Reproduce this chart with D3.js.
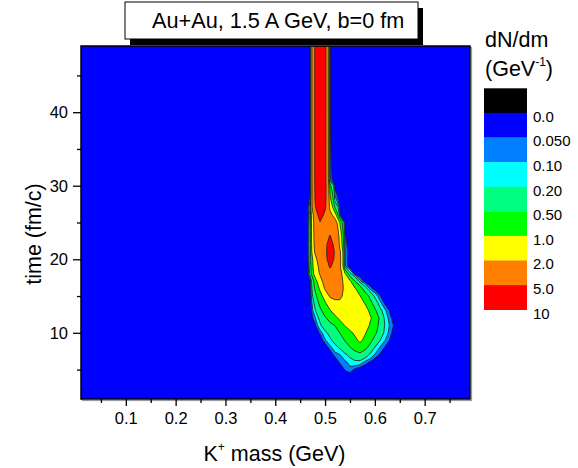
<!DOCTYPE html>
<html>
<head>
<meta charset="utf-8">
<script src="https://cdn.jsdelivr.net/npm/d3@7"></script>
<style>
  body { margin: 0; background: #fff; }
  text { font-family: "Liberation Sans", Arial, Helvetica, sans-serif; fill: #000; }
</style>
</head>
<body>
<svg id="chart" width="578" height="468"></svg>
<script>
// K+ mass (GeV) sampling points of the dN/dm grid (columns)
const masses = [0.465, 0.47, 0.48, 0.49, 0.50, 0.51, 0.52, 0.53, 0.54, 0.55,
                0.56, 0.57, 0.58, 0.59, 0.60, 0.61, 0.62, 0.63, 0.64, 0.65];
// time (fm/c) of each grid row
const times = [4, 5, 6, 7, 8, 9, 10, 11, 12, 13, 14, 15, 16, 17, 18, 19, 20,
               21, 22, 23, 24, 25, 26, 27, 28, 29, 30, 31, 49];
// dN/dm (GeV^-1), one row per time, one entry per mass
const density = [
  [0,0,0,0,0,0,0,0,0,0,0,0,0,0,0,0,0,0,0,0],
  [0,0,0,0,0,0,0,0,0.055,0.085,0.035,0,0,0,0,0,0,0,0,0],
  [0,0,0,0,0,0,0,0.06,0.085,0.12,0.16,0.15,0.075,0.04,0,0,0,0,0,0],
  [0,0,0,0,0,0,0.07,0.095,0.16,0.25,0.33,0.38,0.3,0.17,0.09,0.04,0,0,0,0],
  [0,0,0,0,0,0.075,0.15,0.22,0.35,0.48,0.65,0.8,0.6,0.4,0.19,0.095,0.045,0,0,0],
  [0,0,0,0,0.09,0.17,0.26,0.38,0.52,0.7,0.88,1.1,0.9,0.62,0.38,0.21,0.105,0.045,0,0],
  [0,0,0,0.06,0.16,0.25,0.36,0.51,0.68,0.88,1.1,1.3,1.05,0.8,0.58,0.35,0.16,0.07,0.02,0],
  [0,0,0.03,0.17,0.3,0.42,0.505,0.75,1.02,1.25,1.45,1.6,1.35,0.95,0.65,0.42,0.19,0.09,0.035,0],
  [0,0,0.09,0.25,0.45,0.62,0.85,1.12,1.4,1.65,1.8,1.85,1.55,1.1,0.75,0.45,0.16,0.07,0.01,0],
  [0,0,0.18,0.4,0.7,0.95,1.25,1.55,1.75,1.8,1.75,1.6,1.3,0.9,0.58,0.26,0.12,0.04,0,0],
  [0,0,0.25,0.6,0.9,1.35,1.7,1.85,1.8,1.65,1.45,1.25,0.98,0.65,0.35,0.13,0.04,0,0,0],
  [0,0,0.4,0.75,1.3,2.15,2.3,2.15,1.8,1.45,1.2,1.02,0.75,0.42,0.16,0.055,0,0,0,0],
  [0,0,0.55,1.1,2.1,2.9,3.0,2.6,1.7,1.3,1.05,0.75,0.3,0.08,0.02,0,0,0,0,0],
  [0,0,0.7,1.5,2.6,3.7,3.6,2.5,1.6,1.1,0.51,0.12,0.02,0,0,0,0,0,0,0],
  [0,0.25,1.3,2.1,3.2,4.2,3.8,2.5,1.1,0.25,0.03,0,0,0,0,0,0,0,0,0],
  [0,0.3,1.5,2.3,3.8,5.2,4.3,2.2,0.12,0,0,0,0,0,0,0,0,0,0,0],
  [0,0.35,1.6,2.8,4.2,6.2,4.6,2.3,0.1,0,0,0,0,0,0,0,0,0,0,0],
  [0,0.4,2.2,3.2,4.4,6.3,4.8,2.2,0.1,0,0,0,0,0,0,0,0,0,0,0],
  [0,0.4,2.4,3.6,4.4,6.0,4.4,1.6,0.08,0,0,0,0,0,0,0,0,0,0,0],
  [0,0.4,2.5,3.9,4.2,5.2,3.9,1.5,0.06,0,0,0,0,0,0,0,0,0,0,0],
  [0,0.4,2.6,4.2,4.4,4.5,3.3,1.2,0.04,0,0,0,0,0,0,0,0,0,0,0],
  [0,0.35,2.7,4.8,4.3,3.6,2.7,0.9,0.03,0,0,0,0,0,0,0,0,0,0,0],
  [0,0.3,3.0,6.5,4.2,2.6,1.3,0.045,0,0,0,0,0,0,0,0,0,0,0,0],
  [0,0.2,4.5,9,5.5,1.6,0.52,0.02,0,0,0,0,0,0,0,0,0,0,0,0],
  [0,0.1,5.1,11,5.8,1.2,0.15,0,0,0,0,0,0,0,0,0,0,0,0,0],
  [0,0.04,5.2,12,6,0.9,0.07,0,0,0,0,0,0,0,0,0,0,0,0,0],
  [0,0,5.3,12,6,0.6,0.03,0,0,0,0,0,0,0,0,0,0,0,0,0],
  [0,0,5.4,12,6,0.08,0,0,0,0,0,0,0,0,0,0,0,0,0,0],
  [0,0,5.4,12,6,0,0,0,0,0,0,0,0,0,0,0,0,0,0,0]
];

// contour levels and the colour of the band above each level
const levels = [0.05, 0.1, 0.2, 0.5, 1, 2, 5];
const levelColors = ["#0080ff", "#00ffff", "#00ff80", "#00ff00", "#ffff00", "#ff8000", "#ff0000"];
const backgroundColor = "#0000ff";

// colour scale legend
const legendColors = ["#000000", "#0000ff", "#0080ff", "#00ffff", "#00ff80", "#00ff00", "#ffff00", "#ff8000", "#ff0000"];
const legendLabels = ["0.0", "0.050", "0.10", "0.20", "0.50", "1.0", "2.0", "5.0", "10"];

// axis ticks
const xMajorTicks = [0.1, 0.2, 0.3, 0.4, 0.5, 0.6, 0.7];
const xMinorTicks = [0.05, 0.15, 0.25, 0.35, 0.45, 0.55, 0.65, 0.75];
const yMajorTicks = [10, 20, 30, 40];
const yMinorTicks = [5, 15, 25, 35, 45];

const svg = d3.select("#chart");
const plot = { left: 81, top: 46, right: 470, bottom: 399 };

const x = d3.scaleLinear().domain([0.01, 0.791]).range([plot.left, plot.right]);
const y = d3.scaleLinear().domain([1, 49]).range([plot.bottom, plot.top]);

// clip region for the contour map
svg.append("defs").append("clipPath").attr("id", "plotClip")
  .append("rect")
  .attr("x", plot.left).attr("y", plot.top)
  .attr("width", plot.right - plot.left).attr("height", plot.bottom - plot.top);

// light drop shadow of the frame
svg.append("rect")
  .attr("x", plot.left + 1.5).attr("y", plot.top + 1.5)
  .attr("width", plot.right - plot.left).attr("height", plot.bottom - plot.top)
  .attr("fill", "none").attr("stroke", "#9a9a9a").attr("stroke-width", 1.2);

const map = svg.append("g").attr("clip-path", "url(#plotClip)");
map.append("rect")
  .attr("x", plot.left).attr("y", plot.top)
  .attr("width", plot.right - plot.left).attr("height", plot.bottom - plot.top)
  .attr("fill", backgroundColor);

// filled contours: grid index -> (mass, time) through piecewise-linear scales
const nx = masses.length, ny = times.length;
const colToMass = d3.scaleLinear().domain(d3.range(nx)).range(masses).clamp(true);
const rowToTime = d3.scaleLinear().domain(d3.range(ny)).range(times).clamp(true);
const bands = d3.contours().size([nx, ny]).thresholds(levels)(density.flat());

function toScreen(geom) {
  return {
    type: "MultiPolygon",
    value: geom.value,
    coordinates: geom.coordinates.map(poly => poly.map(ring =>
      ring.map(([cx, cy]) => [x(colToMass(cx - 0.5)), y(rowToTime(cy - 0.5))])))
  };
}
const path = d3.geoPath();
map.selectAll("path.band")
  .data(bands.map(toScreen))
  .join("path")
  .attr("class", "band")
  .attr("d", path)
  .attr("fill", (d, i) => levelColors[i])
  .attr("stroke", "#1e1e1e")
  .attr("stroke-width", 0.8)
  .attr("stroke-linejoin", "round");

// frame
svg.append("rect")
  .attr("x", plot.left).attr("y", plot.top)
  .attr("width", plot.right - plot.left).attr("height", plot.bottom - plot.top)
  .attr("fill", "none").attr("stroke", "#000").attr("stroke-width", 1.5);

// axes
function styleAxis(g) {
  g.select(".domain").remove();
  g.selectAll(".tick line").attr("stroke", "#000").attr("stroke-width", 1.3);
  g.selectAll(".tick text").attr("fill", "#000")
    .style("font-size", "16.5px")
    .style("font-family", "'Liberation Sans', Arial, sans-serif");
}
svg.append("g").attr("transform", `translate(0,${plot.bottom})`)
  .call(d3.axisBottom(x).tickValues(xMinorTicks).tickSize(4).tickFormat(""))
  .call(styleAxis);
svg.append("g").attr("transform", `translate(0,${plot.bottom})`)
  .call(d3.axisBottom(x).tickValues(xMajorTicks).tickSize(7).tickPadding(6).tickFormat(d3.format(".1f")))
  .call(styleAxis);
svg.append("g").attr("transform", `translate(${plot.left},0)`)
  .call(d3.axisLeft(y).tickValues(yMinorTicks).tickSize(4).tickFormat(""))
  .call(styleAxis);
svg.append("g").attr("transform", `translate(${plot.left},0)`)
  .call(d3.axisLeft(y).tickValues(yMajorTicks).tickSize(8).tickPadding(5).tickFormat(d3.format("d")))
  .call(styleAxis);

// axis titles
const xTitle = svg.append("text")
  .attr("x", (plot.left + plot.right) / 2 - 1).attr("y", 461)
  .attr("text-anchor", "middle").attr("font-size", 21.5);
xTitle.append("tspan").text("K");
xTitle.append("tspan").attr("font-size", 12).attr("dy", -10).text("+");
xTitle.append("tspan").attr("dy", 10).text(" mass (GeV)");

svg.append("text")
  .attr("transform", "translate(41,234) rotate(-90)")
  .attr("text-anchor", "middle").attr("font-size", 21.5)
  .text("time (fm/c)");

// title box with shadow
svg.append("rect").attr("x", 130).attr("y", 8).attr("width", 293).attr("height", 37).attr("fill", "#000");
svg.append("rect").attr("x", 125).attr("y", 2).attr("width", 293).attr("height", 37)
  .attr("fill", "#fff").attr("stroke", "#000").attr("stroke-width", 1);
svg.append("text").attr("x", 152).attr("y", 28).attr("font-size", 21.7)
  .text("Au+Au, 1.5 A GeV, b=0 fm");

// colour legend
const legend = { x: 484, top: 88.3, w: 43, h: 24.6 };
svg.append("text").attr("x", 485).attr("y", 47).attr("font-size", 21.5).text("dN/dm");
const unit = svg.append("text").attr("x", 485).attr("y", 76).attr("font-size", 21.5);
unit.append("tspan").text("(GeV");
unit.append("tspan").attr("font-size", 12).attr("dy", -10).text("-1");
unit.append("tspan").attr("dy", 10).text(")");

svg.selectAll("rect.key")
  .data(legendColors)
  .join("rect")
  .attr("class", "key")
  .attr("x", legend.x)
  .attr("y", (d, i) => legend.top + i * legend.h)
  .attr("width", legend.w)
  .attr("height", legend.h + 0.3)
  .attr("fill", d => d);

svg.selectAll("text.keylabel")
  .data(legendLabels)
  .join("text")
  .attr("class", "keylabel")
  .attr("x", 533)
  .attr("y", (d, i) => legend.top + (i + 1) * legend.h + 8.8)
  .attr("font-size", 15)
  .text(d => d);
</script>
</body>
</html>
